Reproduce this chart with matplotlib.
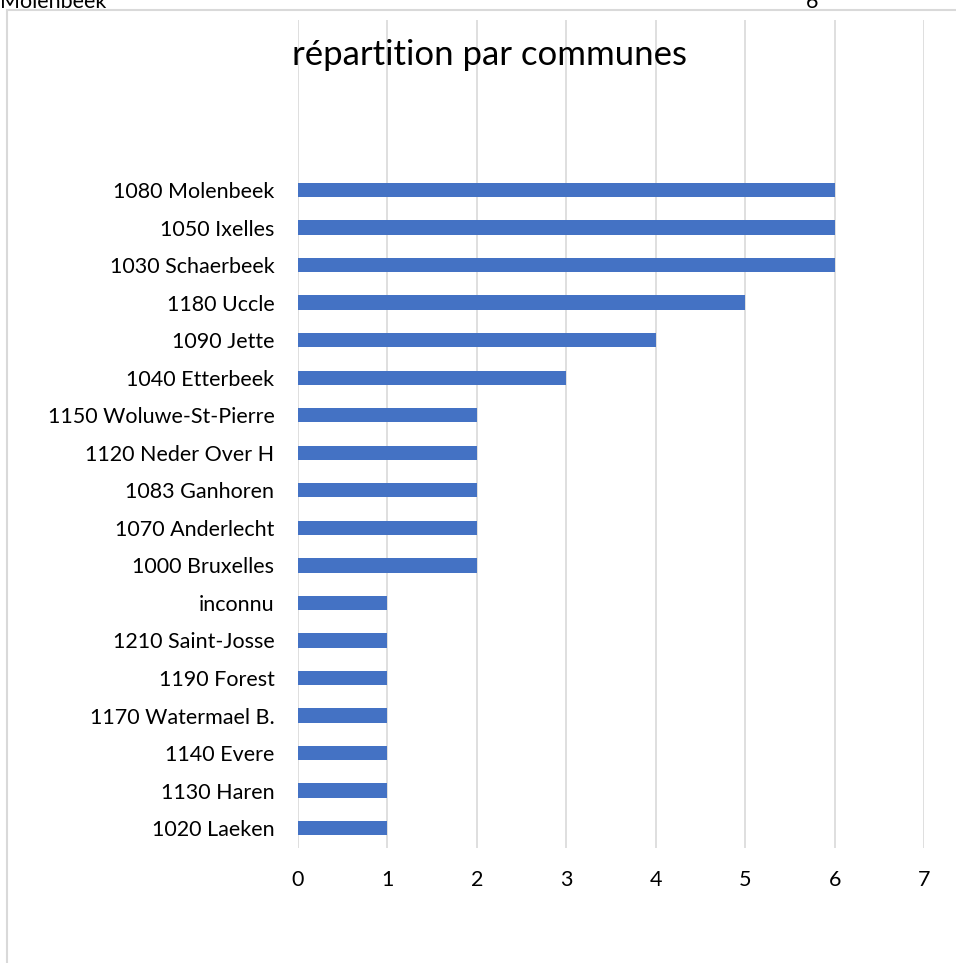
import matplotlib.pyplot as plt
from matplotlib.patches import Rectangle

communes = [
    "1080 Molenbeek", "1050 Ixelles", "1030 Schaerbeek", "1180 Uccle",
    "1090 Jette", "1040 Etterbeek", "1150 Woluwe-St-Pierre", "1120 Neder Over H",
    "1083 Ganhoren", "1070 Anderlecht", "1000 Bruxelles", "inconnu",
    "1210 Saint-Josse", "1190 Forest", "1170 Watermael B.", "1140 Evere",
    "1130 Haren", "1020 Laeken",
]
counts = [6, 6, 6, 5, 4, 3, 2, 2, 2, 2, 2, 1, 1, 1, 1, 1, 1, 1]
xticks = [0, 1, 2, 3, 4, 5, 6, 7]

plt.rcParams["font.family"] = ["Lato", "DejaVu Sans"]

W, H = 956, 963
fig = plt.figure(figsize=(W / 100, H / 100), dpi=100)

# chart frame (excel style, cut at right/bottom)
fig.patches.append(Rectangle((7 / W, -0.01), 1.0, 1 - 10 / H + 0.01,
                             transform=fig.transFigure, fill=False,
                             edgecolor="#d9d9d9", linewidth=1.5))

# spreadsheet cell text cut off at the top
fig.text(0.0, 1 - 2 / H, "Molenbeek", fontsize=15.5, va="center", ha="left")
fig.text(806 / W, 1 - 2 / H, "6", fontsize=15.5, va="center", ha="left")

ax = fig.add_axes([298 / W, 1 - 848 / H, (924 - 298) / W, (848 - 20) / H])
n = len(communes)
ypos = list(range(n - 1, -1, -1))
ax.barh(ypos, counts, height=0.38, color="#4472C4", zorder=3)

ax.set_xlim(0, 7)
ax.set_ylim(-0.53, n - 1 + 4.53)
ax.set_xticks(xticks)
ax.set_xticklabels([str(t) for t in xticks])
ax.set_yticks(ypos)
ax.set_yticklabels(communes)
ax.grid(axis="x", color="#d9d9d9", linewidth=1.2, zorder=0)
for s in ax.spines.values():
    s.set_visible(False)
ax.tick_params(axis="both", length=0, labelsize=15.5)
ax.tick_params(axis="x", pad=16)
ax.tick_params(axis="y", pad=17)
ax.patch.set_alpha(0)

fig.text(490 / W, 1 - 55 / H, "répartition par communes", fontsize=25,
         ha="center", va="center")

fig.savefig("out.png", dpi=100)
